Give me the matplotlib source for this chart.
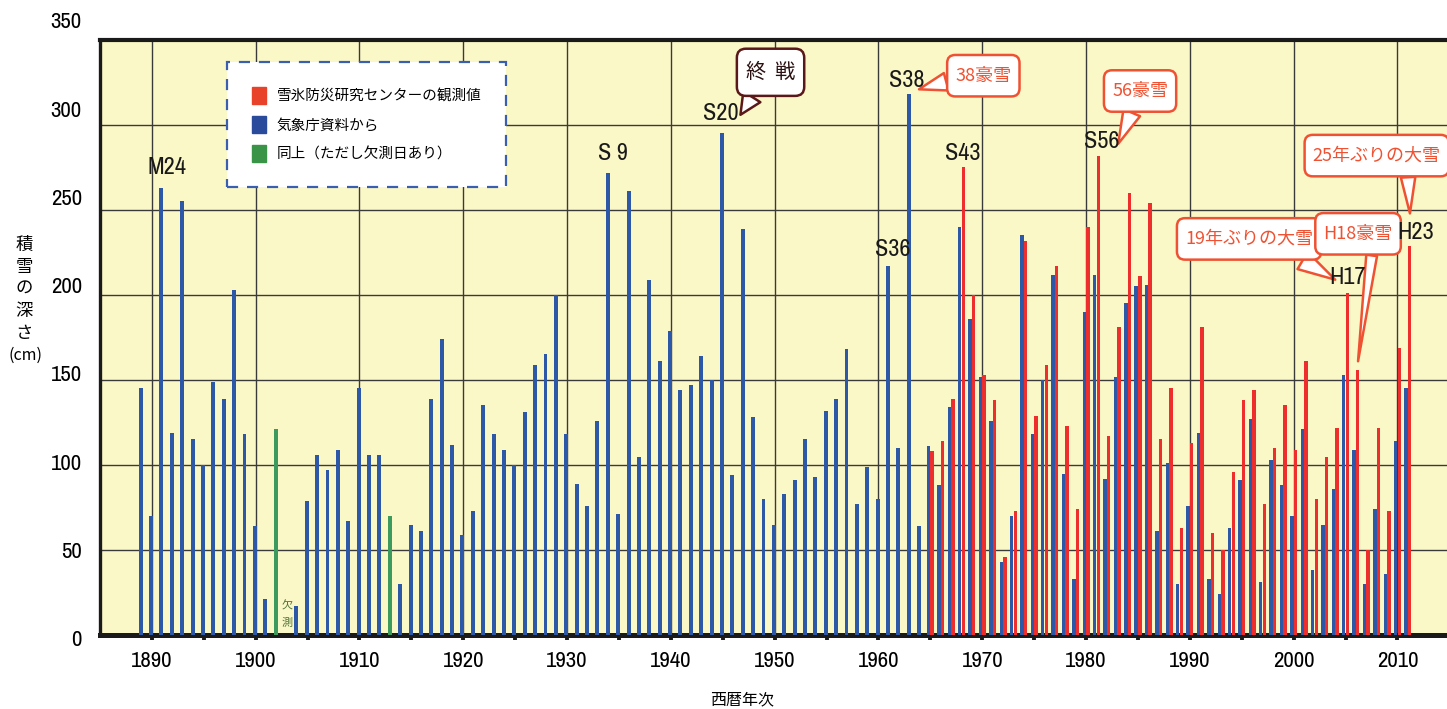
import os
import matplotlib
matplotlib.use("Agg")
import matplotlib.pyplot as plt
import matplotlib.patches as mpatches
import matplotlib.transforms as mtransforms
from matplotlib import font_manager
from matplotlib.font_manager import FontProperties
from matplotlib.patches import BoxStyle

JP_FONT = "Noto Sans CJK JP"
plt.rcParams["font.family"] = [JP_FONT, "DejaVu Sans"]

# look for a narrow / condensed latin font for the numbers
cond_path = None
cands = []
for f in font_manager.fontManager.ttflist:
    fn = os.path.basename(f.fname).lower()
    if any(k in fn for k in ("bold", "oblique", "italic")):
        continue
    if "narrow" in fn:
        cands.append((0, f.fname))
    elif "condensed" in fn or "cond" in fn:
        cands.append((1, f.fname))
if cands:
    cond_path = sorted(cands)[0][1]


def numfont(size):
    if cond_path:
        return FontProperties(fname=cond_path, size=size)
    return FontProperties(family="Liberation Sans", size=size * 0.88)


# rounded box, a little taller than the plain round style
_round = BoxStyle.Round(pad=0.45, rounding_size=0.45)


def bubble_box(x0, y0, width, height, mutation_size):
    dy = 0.2 * mutation_size
    return _round(x0, y0 - dy, width, height + 2 * dy, mutation_size)


# ---- data (cm) ----
jma_years = list(range(1889, 2012))
jma_depth = [145,
             70, 263, 119, 255, 115, 100, 149, 139, 203, 118,
             64, 21, 121, None, 17, 79, 106, 97, 109, 67,
             145, 106, 106, 70, 30, 65, 61, 139, 174, 112,
             59, 73, 135, 118, 109, 100, 131, 159, 165, 200,
             118, 89, 76, 126, 272, 71, 261, 105, 209, 161,
             179, 144, 147, 164, 150, 295, 94, 239, 128, 80,
             65, 83, 91, 115, 93, 132, 139, 168, 77, 99,
             80, 217, 110, 318, 64, 111, 88, 134, 240, 186,
             152, 126, 43, 70, 235, 118, 150, 212, 95, 33,
             190, 212, 92, 152, 195, 205, 206, 61, 101, 30,
             76, 119, 33, 24, 63, 91, 127, 31, 103, 88,
             70, 121, 38, 65, 86, 153, 109, 30, 74, 36,
             114, 145]
partial_years = [1902, 1913]   # 欠測日あり
missing_year = 1903

center_years = list(range(1965, 2012))
center_depth = [108, 114, 139, 275, 200,
                153, 138, 46, 73, 232, 129, 159, 217, 123, 74,
                240, 282, 117, 181, 260, 211, 254, 115, 145, 63,
                113, 181, 60, 50, 96, 138, 144, 77, 110, 135,
                109, 161, 80, 105, 122, 201, 156, 50, 122, 73,
                169, 229]

legend_labels = ["雪氷防災研究センターの観測値", "気象庁資料から", "同上（ただし欠測日あり）"]

# era labels: text, year, depth
era_labels = [("M24", 1891.45, 275), ("S 9", 1934.4, 283), ("S20", 1944.85, 307),
              ("S36", 1961.35, 227), ("S38", 1962.7, 326), ("S43", 1968.1, 283),
              ("S56", 1981.55, 290), ("H17", 2005.15, 210), ("H23", 2011.75, 237)]

# callouts: text, box centre (year, depth), tip (year, depth), relpos, tail width, colour
callouts = [("終  戦", (1949.6, 331), (1946.7, 306), (0.3, 0.0), 1.0, "#5a1818"),
            ("38豪雪", (1970.1, 329), (1963.9, 321), (0.0, 0.3), 1.0, "#ef5232"),
            ("56豪雪", (1985.2, 320), (1983.1, 289), (0.45, 0.0), 1.0, "#ef5232"),
            ("25年ぶりの大雪", (2008.0, 282), (2011.2, 248), (0.74, 0.0), 0.8, "#ef5232"),
            ("19年ぶりの大雪", (1995.7, 233), (2004.0, 209), (0.75, 0.0), 1.1, "#ef5232"),
            ("H18豪雪", (2006.2, 236), (2006.2, 161), (0.72, 0.0), 0.6, "#ef5232")]

BG = "#fbf8c8"
BLUE = "#2d57a7"
RED = "#ee2d2d"
GREEN = "#3c9a5f"

fig = plt.figure(figsize=(14.47, 7.09), dpi=100)
ax = fig.add_axes([100 / 1447, 74 / 709, 1347 / 1447, 595 / 709])
ax.set_facecolor(BG)
ax.set_xlim(1885, 2014.77)
ax.set_ylim(0, 350)

# JMA bars (single before 1965, left of the pair afterwards)
bx, bh, bw, bc = [], [], [], []
for yr, d in zip(jma_years, jma_depth):
    if d is None:
        continue
    if yr >= center_years[0]:
        bx.append(yr - 0.175)
        bw.append(0.33)
    else:
        bx.append(yr - 0.08)
        bw.append(0.38)
    bh.append(d)
    bc.append(GREEN if yr in partial_years else BLUE)
ax.bar(bx, bh, width=bw, color=bc, zorder=3)

# snow center bars
ax.bar([y + 0.175 for y in center_years], center_depth, width=0.33, color=RED, zorder=3)

# grid / ticks
ax.set_yticks(range(0, 351, 50))
ax.set_yticklabels([])
ax.tick_params(axis="y", length=0)
decades = list(range(1890, 2011, 10))
ax.set_xticks(decades)
ax.set_xticklabels([str(d) for d in decades], fontproperties=numfont(16.5))
ax.set_xticks(range(1895, 2010, 10), minor=True)
ax.tick_params(axis="x", which="both", length=3.5, width=2.8, color="#1a1a1a",
               direction="out", pad=8)
ax.grid(True, which="major", color="#3a3a3a", lw=1.0)
ax.set_axisbelow(True)

for s in ["left", "bottom", "top"]:
    ax.spines[s].set_color("#1a1a1a")
ax.spines["left"].set_linewidth(2.4)
ax.spines["bottom"].set_linewidth(3.6)
ax.spines["top"].set_linewidth(3.0)
ax.spines["right"].set_visible(False)

# y tick labels sit a bit off the grid in the original
trans = mtransforms.blended_transform_factory(ax.transAxes, ax.transData)
for v in range(0, 351, 50):
    ax.text(-0.0135, v * 1.038 - 3, str(v), transform=trans, ha="right", va="center",
            fontproperties=numfont(16.5), clip_on=False)

# axis titles
for i, ch in enumerate("積雪の深さ"):
    fig.text(24 / 1447, 1 - (245 + i * 22) / 709, ch, ha="center", va="center",
             fontsize=12.5)
fig.text(26 / 1447, 1 - 355 / 709, "(cm)", ha="center", va="center", fontsize=11.5)
fig.text(742 / 1447, 1 - 700 / 709, "西暦年次", ha="center", va="center", fontsize=11.5)

# missing observation mark
ax.text(missing_year, 17, "欠", ha="center", va="center", fontsize=8, color="#4f7236",
        zorder=4)
ax.text(missing_year, 7, "測", ha="center", va="center", fontsize=8, color="#4f7236",
        zorder=4)

# speech-bubble callouts
for txt, (tx, ty), (px, py), rp, tw, col in callouts:
    tcol = "#2a1010" if col == "#5a1818" else col
    fs = 14.5 if col == "#5a1818" else 13
    ax.annotate(txt, xy=(px, py), xytext=(tx, ty), ha="center", va="center",
                fontsize=fs, color=tcol, zorder=6,
                bbox=dict(boxstyle=bubble_box, fc="white", ec=col, lw=1.8),
                arrowprops=dict(arrowstyle="wedge,tail_width=%.2f,shrink_factor=0.5" % tw,
                                fc="white", ec=col, lw=1.8, relpos=rp,
                                shrinkA=0, shrinkB=0))

# era labels on top
for txt, yr, d in era_labels:
    ax.text(yr, d, txt, ha="center", va="center", fontproperties=numfont(17.5),
            color="#1a1a1a", zorder=8)

# legend
handles = [mpatches.Patch(color="#e8432a"), mpatches.Patch(color="#2a4a9c"),
           mpatches.Patch(color="#3a9448")]
leg = ax.legend(handles, legend_labels, loc="upper left",
                bbox_to_anchor=((227 - 100) / 1347, (635 - 62) / 595),
                prop={"family": [JP_FONT], "size": 10.5}, frameon=True, fancybox=False,
                handlelength=1.0, handleheight=1.4, handletextpad=0.7,
                labelspacing=0.85, borderpad=1.7, borderaxespad=0)
fr = leg.get_frame()
fr.set_facecolor("white")
fr.set_edgecolor("#3a5fb0")
fr.set_linewidth(1.6)
fr.set_linestyle((0, (5, 4)))
fr.set_alpha(1)
leg.set_zorder(7)

fig.savefig("out.png", dpi=100, facecolor="white")
